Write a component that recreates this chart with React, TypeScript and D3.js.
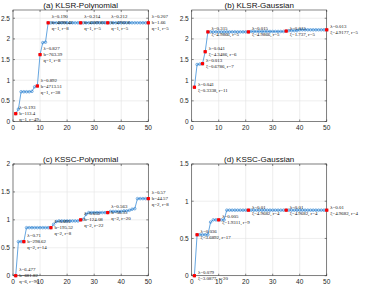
import React from 'react';
import * as d3 from 'd3';

const xIdx = d3.range(1, 51);

const seriesA = [0.19, 0.30, 0.72, 0.72, 0.72, 0.72, 0.73, 0.84, 0.86, 1.62, 1.91, 1.92,
  2.39, 2.39, 2.39, 2.39, 2.39, 2.39, 2.39, 2.39, 2.39, 2.39, 2.39, 2.39, 2.39, 2.39, 2.39, 2.39, 2.39,
  2.39, 2.39, 2.39, 2.39, 2.39, 2.39, 2.39, 2.39, 2.39, 2.39, 2.39, 2.39, 2.39, 2.39, 2.39, 2.39, 2.39,
  2.39, 2.39, 2.39, 2.39];
const seriesB = [0.83, 1.38, 1.39, 1.40, 1.69, 2.17,
  2.17, 2.17, 2.17, 2.17, 2.17, 2.17, 2.17, 2.17, 2.17, 2.17, 2.17, 2.17, 2.17, 2.17, 2.17,
  2.18, 2.18, 2.18, 2.18, 2.18, 2.18, 2.18, 2.18, 2.18, 2.18, 2.18, 2.18, 2.18,
  2.19, 2.20, 2.20, 2.20, 2.20,
  2.22, 2.22, 2.22, 2.22, 2.22, 2.22, 2.22, 2.22, 2.22, 2.22, 2.22];
const seriesC = [0.00, 0.61, 0.61, 0.61, 0.86,
  0.86, 0.86, 0.86, 0.86, 0.86, 0.86, 0.86, 0.86, 0.86,
  0.92, 0.97, 0.98, 0.98, 0.98, 0.98, 0.98, 0.98, 0.98, 0.98,
  1.00, 1.01, 1.10, 1.13, 1.13, 1.13, 1.13, 1.13, 1.13, 1.13, 1.13,
  1.15, 1.15, 1.15, 1.15, 1.15, 1.16, 1.16, 1.17, 1.19, 1.20,
  1.38, 1.38, 1.38, 1.38, 1.38];
const seriesD = [0.00, 0.55, 0.55, 0.55, 0.55, 0.55, 0.72, 0.75, 0.75, 0.75, 0.75, 0.75, 0.88,
  0.88, 0.88, 0.88, 0.88, 0.88, 0.88, 0.88, 0.88, 0.88, 0.88, 0.88, 0.88, 0.88, 0.88, 0.88, 0.88,
  0.88, 0.88, 0.88, 0.88, 0.88, 0.88, 0.88, 0.88, 0.88, 0.88, 0.88, 0.88, 0.88, 0.88, 0.88, 0.88,
  0.88, 0.88, 0.88, 0.88, 0.88];

const notesA = [
  { x: 1, lines: ['λ=0.193', 'b=113.4', 'q=1, r=49'] },
  { x: 9, lines: ['λ=0.892', 'b=4713.51', 'q=1, r=38'] },
  { x: 10, lines: ['λ=0.827', 'b=763.39', 'q=1, r=8'] },
  { x: 13, lines: ['λ=0.190', 'b=4698.43', 'q=1, r=8'] },
  { x: 25, lines: ['λ=0.214', 'b=4589.85', 'q=1, r=5'] },
  { x: 35, lines: ['λ=0.212', 'b=4702.8', 'q=1, r=5'] },
  { x: 50, lines: ['λ=0.207', 'b=1.66', 'q=1, r=5'] },
];
const notesB = [
  { x: 1, lines: ['λ=0.041', 'ξ=0.3338, r=11'] },
  { x: 4, lines: ['λ=0.013', 'ξ=0.6786, r=7'] },
  { x: 5, lines: ['λ=0.041', 'ξ=4.3486, r=6'] },
  { x: 6, lines: ['λ=0.315', 'ξ=4.9866, r=5'] },
  { x: 21, lines: ['λ=0.015', 'ξ=4.9866, r=5'] },
  { x: 35, lines: ['λ=0.015', 'ξ=1.737, r=5'] },
  { x: 50, lines: ['λ=0.013', 'ξ=4.9177, r=5'] },
];
const notesC = [
  { x: 1, lines: ['λ=6.477', 'b=681.82', 'q=6, r=90'] },
  { x: 4, lines: ['λ=0.71', 'b=298.62', 'q=2, r=14'] },
  { x: 14, lines: ['λ=0.893', 'b=195.52', 'q=2, r=8'] },
  { x: 25, lines: ['λ=0.652', 'b=124.08', 'q=2, r=22'] },
  { x: 35, lines: ['λ=0.563', 'b=56.35', 'q=2, r=20'] },
  { x: 50, lines: ['λ=0.57', 'b=44.57', 'q=2, r=8'] },
];
const notesD = [
  { x: 1, lines: ['λ=0.079', 'ξ=3.0877, r=20'] },
  { x: 2, lines: ['λ=0.036', 'ξ=3.6892, r=17'] },
  { x: 10, lines: ['λ=0.005', 'ξ=1.9311, r=9'] },
  { x: 21, lines: ['λ=0.01', 'ξ=4.9682, r=4'] },
  { x: 35, lines: ['λ=0.01', 'ξ=4.9682, r=4'] },
  { x: 50, lines: ['λ=0.01', 'ξ=4.9682, r=4'] },
];

const titles = ['(a) KLSR-Polynomial', '(b) KLSR-Gaussian', '(c) KSSC-Polynomial', '(d) KSSC-Gaussian'];
const xTicks = [0, 10, 20, 30, 40, 50];
const yMaxes = [2.7, 2.7, 2, 1.5];
const yTickSets = [
  [0, 0.5, 1, 1.5, 2, 2.5],
  [0, 0.5, 1, 1.5, 2, 2.5],
  [0, 0.5, 1, 1.5, 2],
  [0, 0.5, 1, 1.5],
];

type Note = { x: number; lines: string[] };

function Panel(props: {
  title: string; values: number[]; notes: Note[]; yMax: number; yTicks: number[];
  left: number; right: number; top: number; bottom: number;
}) {
  const { title, values, notes, yMax, yTicks, left, right, top, bottom } = props;
  const xs = d3.scaleLinear().domain([0, 50]).range([left, right]);
  const ys = d3.scaleLinear().domain([0, yMax]).range([bottom, top]);
  const pts = xIdx.map((x, i) => [x, values[i]] as [number, number]);
  const line = d3.line<[number, number]>().x(d => xs(d[0])).y(d => ys(d[1]));
  const tickLen = 2;
  const axisCol = '#3a3a3a';
  const gridCol = '#e3e3e3';
  const lineSpacing = 6;
  return (
    <g>
      <rect x={left} y={top} width={right - left} height={bottom - top} fill="#fff" />
      {xTicks.map(t => (
        <line key={'gx' + t} x1={xs(t)} x2={xs(t)} y1={top} y2={bottom} stroke={gridCol} strokeWidth={0.6} />
      ))}
      {yTicks.map(t => (
        <line key={'gy' + t} x1={left} x2={right} y1={ys(t)} y2={ys(t)} stroke={gridCol} strokeWidth={0.6} />
      ))}
      <rect x={left} y={top} width={right - left} height={bottom - top} fill="none" stroke={axisCol} strokeWidth={0.6} />
      {xTicks.map(t => (
        <g key={'tx' + t}>
          <line x1={xs(t)} x2={xs(t)} y1={bottom} y2={bottom - tickLen} stroke={axisCol} strokeWidth={0.6} />
          <line x1={xs(t)} x2={xs(t)} y1={top} y2={top + tickLen} stroke={axisCol} strokeWidth={0.6} />
          <text x={xs(t)} y={bottom + 8} fontSize={6.5} textAnchor="middle" fill="#262626"
            fontFamily="Liberation Sans, Arial, sans-serif">{t}</text>
        </g>
      ))}
      {yTicks.map(t => (
        <g key={'ty' + t}>
          <line x1={left} x2={left + tickLen} y1={ys(t)} y2={ys(t)} stroke={axisCol} strokeWidth={0.6} />
          <line x1={right} x2={right - tickLen} y1={ys(t)} y2={ys(t)} stroke={axisCol} strokeWidth={0.6} />
          <text x={left - 3} y={ys(t) + 2.3} fontSize={6.5} textAnchor="end" fill="#262626"
            fontFamily="Liberation Sans, Arial, sans-serif">{String(t)}</text>
        </g>
      ))}
      <text x={(left + right) / 2} y={top - 1.8} fontSize={8} textAnchor="middle" fill="#111"
        fontFamily="Liberation Sans, Arial, sans-serif">{title}</text>
      <path d={line(pts) || ''} fill="none" stroke="#3f8fd8" strokeWidth={0.8} />
      {pts.map(p => (
        <circle key={'c' + p[0]} cx={xs(p[0])} cy={ys(p[1])} r={1.3} fill="none" stroke="#2a7fcf" strokeWidth={0.6} />
      ))}
      {notes.map(n => (
        <rect key={'r' + n.x} x={xs(n.x) - 1.6} y={ys(values[n.x - 1]) - 1.6} width={3.2} height={3.2} fill="#ff0000" />
      ))}
      {notes.map(n => {
        const cx = xs(n.x) + 3.5;
        const cy = ys(values[n.x - 1]);
        const k = n.lines.length;
        return (
          <g key={'n' + n.x}>
            {n.lines.map((s, j) => (
              <text key={j} x={cx} y={cy + (j - (k - 1) / 2) * lineSpacing + 1.6} fontSize={4.9}
                fill="#111" fontFamily="Liberation Serif, Times New Roman, serif">{s}</text>
            ))}
          </g>
        );
      })}
    </g>
  );
}

export default function App() {
  const seriesList = [seriesA, seriesB, seriesC, seriesD];
  const notesList = [notesA, notesB, notesC, notesD];
  const lefts = [13, 191.7, 13, 191.7];
  const rights = [148.3, 326.7, 148.3, 326.7];
  const tops = [10, 10, 164, 164];
  const bottoms = [121.5, 121.5, 275.7, 275.7];
  return (
    <svg width={365} height={289} style={{ position: 'absolute', left: 0, top: 0, background: '#fff' }}>
      <rect width={365} height={289} fill="#fff" />
      {seriesList.map((s, i) => (
        <Panel key={i} title={titles[i]} values={s} notes={notesList[i]} yMax={yMaxes[i]} yTicks={yTickSets[i]}
          left={lefts[i]} right={rights[i]} top={tops[i]} bottom={bottoms[i]} />
      ))}
    </svg>
  );
}
